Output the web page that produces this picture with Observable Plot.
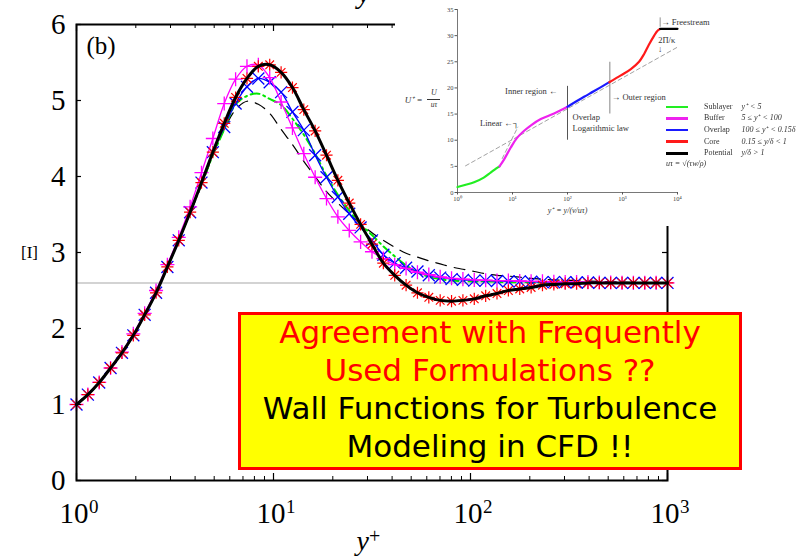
<!DOCTYPE html>
<html>
<head>
<meta charset="utf-8">
<script src="https://cdn.jsdelivr.net/npm/d3@7"></script>
<script src="https://cdn.jsdelivr.net/npm/@observablehq/plot@0.6"></script>
<style>
  html, body { margin: 0; padding: 0; background: #fff; }
  #wrap { position: relative; width: 796px; height: 556px; overflow: hidden; }
  #main { position: absolute; left: 0; top: 0; }
  #inset { position: absolute; left: 395px; top: 0; width: 401px; height: 226px; background: #fff; filter: blur(0.45px); }
  #inset .lg { position: absolute; font-family: "Liberation Serif", serif; font-size: 8px; color: #333; white-space: nowrap; line-height: 8px; }
  #inset .bar { position: absolute; height: 2.5px; width: 22px; }
  #inset .fracbar { position: absolute; left: 32px; top: 98.8px; width: 13px; height: 0.8px; background: #333; }
  #note { position: absolute; left: 238px; top: 312px; width: 504px; height: 158px; box-sizing: border-box;
          border: 3px solid #ff0000; background: #ffff00; text-align: center;
          font-family: "DejaVu Sans", sans-serif; font-size: 31px; line-height: 38px; }
  #note .inner { margin-top: -2px; }
  #note .q { color: #ff0000; }
  #note .a { color: #000; }
</style>
</head>
<body>
<div id="wrap">
  <div id="main"></div>
  <div id="inset"><div class="fracbar"></div></div>
  <div id="note"><div class="inner">
    <div class="q">Agreement with Frequently</div>
    <div class="q">Used Formulations ??</div>
    <div class="a">Wall Functions for Turbulence</div>
    <div class="a">Modeling in CFD !!</div>
  </div></div>
</div>
<script>
// ---- main panel (b): profiles against y+ ----
const yPlus = [1, 1.142, 1.304, 1.489, 1.701, 1.943, 2.218, 2.534, 2.893, 3.304,
  3.774, 4.310, 4.922, 5.623, 6.422, 7.334, 8.376, 9.567, 10.93, 12.48,
  14.25, 16.27, 18.58, 21.22, 24.24, 27.68, 31.62, 36.11, 41.24, 47.10,
  53.79, 61.43, 70.16, 80.13, 91.51, 104.5, 119.4, 136.3, 155.7, 177.8,
  203.1, 231.9, 264.9, 302.5, 345.5, 394.6, 450.7, 514.7, 587.8, 671.3,
  766.7, 875.6, 1000];

const seriesBlack = [1.00, 1.13, 1.29, 1.48, 1.68, 1.91, 2.18, 2.47, 2.81, 3.16,
  3.53, 3.92, 4.32, 4.70, 5.04, 5.29, 5.45, 5.47, 5.37, 5.17,
  4.88, 4.60, 4.28, 3.95, 3.65, 3.37, 3.11, 2.86, 2.70, 2.57,
  2.47, 2.41, 2.37, 2.36, 2.37, 2.39, 2.43, 2.46, 2.50, 2.52,
  2.54, 2.57, 2.58, 2.59, 2.59, 2.60, 2.60, 2.60, 2.60, 2.60,
  2.60, 2.60, 2.60];

const seriesMagenta = [1.00, 1.13, 1.29, 1.48, 1.69, 1.93, 2.20, 2.50, 2.84, 3.20,
  3.60, 4.05, 4.50, 4.96, 5.28, 5.45, 5.47, 5.30, 4.98, 4.64,
  4.30, 3.99, 3.71, 3.47, 3.29, 3.14, 3.01, 2.92, 2.84, 2.79,
  2.74, 2.71, 2.68, 2.66, 2.65, 2.64, 2.635, 2.63, 2.63, 2.625,
  2.62, 2.62, 2.615, 2.61, 2.61, 2.61, 2.605, 2.605, 2.60, 2.60,
  2.60, 2.60, 2.60];

const seriesBlue = [1.00, 1.13, 1.29, 1.48, 1.68, 1.91, 2.18, 2.47, 2.81, 3.16,
  3.53, 3.92, 4.32, 4.65, 4.96, 5.18, 5.29, 5.24, 5.11, 4.85,
  4.61, 4.28, 3.99, 3.73, 3.51, 3.33, 3.16, 2.97, 2.86, 2.80,
  2.75, 2.70, 2.67, 2.65, 2.64, 2.63, 2.63, 2.625, 2.62, 2.62,
  2.615, 2.61, 2.61, 2.61, 2.605, 2.605, 2.60, 2.60, 2.60, 2.60,
  2.60, 2.60, 2.60];

const seriesGreen = [1.00, 1.13, 1.29, 1.48, 1.68, 1.91, 2.18, 2.47, 2.81, 3.16,
  3.53, 3.90, 4.28, 4.62, 4.95, 5.06, 5.09, 5.02, 4.94, 4.76,
  4.55, 4.30, 4.01, 3.76, 3.55, 3.37, 3.23, 3.08, 2.95, 2.83,
  2.74, 2.68, 2.65, 2.63, 2.625, 2.62, 2.62, 2.615, 2.61, 2.61,
  2.61, 2.605, 2.605, 2.60, 2.60, 2.60, 2.60, 2.60, 2.60, 2.60,
  2.60, 2.60, 2.60];

const seriesDashed = [1.00, 1.13, 1.29, 1.48, 1.68, 1.91, 2.18, 2.47, 2.81, 3.16,
  3.52, 3.88, 4.28, 4.62, 4.88, 4.99, 4.95, 4.83, 4.62, 4.42,
  4.20, 4.00, 3.80, 3.65, 3.51, 3.38, 3.26, 3.16, 3.07, 2.99,
  2.94, 2.89, 2.85, 2.81, 2.78, 2.75, 2.72, 2.70, 2.69, 2.675,
  2.66, 2.65, 2.64, 2.635, 2.63, 2.625, 2.62, 2.615, 2.61, 2.605,
  2.60, 2.60, 2.60];

const referenceLevel = 2.6;
const majorTicks = [1, 10, 100, 1000];
const majorExponents = ["0", "1", "2", "3"];
const minorTicks = [2, 3, 4, 5, 6, 7, 8, 9, 20, 30, 40, 50, 60, 70, 80, 90,
  200, 300, 400, 500, 600, 700, 800, 900];
const yTicks = [0, 1, 2, 3, 4, 5, 6];

const rows = yPlus.map((yp, i) => ({
  yp, black: seriesBlack[i], magenta: seriesMagenta[i], blue: seriesBlue[i],
  green: seriesGreen[i], dashed: seriesDashed[i]
}));

const serif = "'Liberation Serif', 'Times New Roman', serif";
const frameH = 456, frameW = 591;

const main = Plot.plot({
  width: 796, height: 556,
  marginLeft: 76, marginRight: 129, marginTop: 24, marginBottom: 76,
  x: {type: "log", domain: [1, 1000], axis: null},
  y: {domain: [0, 6], axis: null},
  style: {fontFamily: serif, background: "transparent", overflow: "visible", color: "#000"},
  marks: [
    Plot.ruleY([referenceLevel], {stroke: "#c4c4c4", strokeWidth: 1.5}),
    Plot.line(rows, {x: "yp", y: "dashed", stroke: "#000", strokeWidth: 1.2, strokeDasharray: "11,8", curve: "catmull-rom"}),
    Plot.line(rows, {x: "yp", y: "green", stroke: "#00e600", strokeWidth: 2, strokeDasharray: "9,4,2,4", curve: "catmull-rom"}),
    Plot.line(rows, {x: "yp", y: "blue", stroke: "#0000ff", strokeWidth: 1.3, curve: "catmull-rom"}),
    Plot.dot(rows, {x: "yp", y: "blue", symbol: "times", r: 5.5, stroke: "#0000ff", strokeWidth: 1.3}),
    Plot.line(rows, {x: "yp", y: "magenta", stroke: "#ff00ff", strokeWidth: 1.3, curve: "catmull-rom"}),
    Plot.dot(rows, {x: "yp", y: "magenta", symbol: "plus", r: 4.6, stroke: "#ff00ff", strokeWidth: 1.3}),
    Plot.dot(rows, {x: "yp", y: "black", symbol: "plus", r: 4, stroke: "#ff0000", strokeWidth: 1.2}),
    Plot.dot(rows, {x: "yp", y: "black", symbol: "times", r: 4, stroke: "#ff0000", strokeWidth: 1.2}),
    Plot.line(rows, {x: "yp", y: "black", stroke: "#000", strokeWidth: 3, curve: "catmull-rom"}),
    Plot.frame({stroke: "#000", strokeWidth: 2}),
    // inward ticks on all four sides
    Plot.tickX(majorTicks, {x: d => d, insetTop: frameH - 7, stroke: "#000", strokeWidth: 1.2}),
    Plot.tickX(minorTicks, {x: d => d, insetTop: frameH - 4, stroke: "#000", strokeWidth: 1}),
    Plot.tickX(majorTicks, {x: d => d, insetBottom: frameH - 7, stroke: "#000", strokeWidth: 1.2}),
    Plot.tickX(minorTicks, {x: d => d, insetBottom: frameH - 4, stroke: "#000", strokeWidth: 1}),
    Plot.tickY(yTicks, {y: d => d, insetRight: frameW - 5, stroke: "#000", strokeWidth: 1.2}),
    Plot.tickY(yTicks, {y: d => d, insetLeft: frameW - 5, stroke: "#000", strokeWidth: 1.2}),
    // tick labels
    Plot.axisY(yTicks, {tickSize: 0, tickPadding: 11, fontSize: 29, fill: "#000", label: null, tickFormat: d => String(d)}),
    Plot.text(majorTicks, {x: d => d, frameAnchor: "bottom", text: () => "10", textAnchor: "end",
      lineAnchor: "bottom", dx: 12, dy: 42, fontSize: 29, fill: "#000"}),
    Plot.text(majorTicks, {x: d => d, frameAnchor: "bottom", text: d => majorExponents[majorTicks.indexOf(d)],
      textAnchor: "start", lineAnchor: "bottom", dx: 12.5, dy: 32, fontSize: 19, fill: "#000"}),
    // axis titles and panel tag
    Plot.text(["y"], {frameAnchor: "bottom", text: d => d, textAnchor: "end", lineAnchor: "bottom",
      dx: -3, dy: 69, fontSize: 28, fontStyle: "italic", fill: "#000"}),
    Plot.text(["+"], {frameAnchor: "bottom", text: d => d, textAnchor: "start", lineAnchor: "bottom",
      dx: -3, dy: 62, fontSize: 20, fill: "#000"}),
    Plot.text(["[I]"], {frameAnchor: "left", text: d => d, textAnchor: "middle", dx: -47, dy: 0, fontSize: 17, fill: "#000"}),
    Plot.text(["(b)"], {frameAnchor: "top-left", text: d => d, textAnchor: "start", lineAnchor: "bottom",
      dx: 10, dy: 29, fontSize: 25, fill: "#000"}),
    Plot.text(["y"], {frameAnchor: "top", text: d => d, textAnchor: "middle", lineAnchor: "bottom",
      dx: -8, dy: -22, fontSize: 29, fontStyle: "italic", fill: "#000"})
  ]
});
document.getElementById("main").appendChild(main);

// ---- inset: regions of the mean velocity profile U+ against y+ ----
const insetSublayer = [[1, 1.05], [2, 1.95], [3, 2.85], [4, 3.8], [5, 4.55], [5.8, 5.0]];
const insetBuffer = [[5.8, 5.0], [7, 6.3], [9.3, 8.6], [12, 10.4], [16.3, 11.8], [22, 12.9], [32.7, 14.05], [57, 15.1], [100, 16.4]];
const insetOverlap = [[100, 16.4], [200, 18.3], [300, 19.35], [575, 21.1]];
const insetCore = [[575, 21.1], [933, 22.4], [1420, 23.6], [2000, 25.0], [2475, 26.5], [3000, 28.2], [3765, 30.0], [4300, 30.9], [4840, 31.25]];
const insetPotential = [[4840, 31.3], [10000, 31.3]];
const insetLogLaw = [[1.4, 5.1], [10000, 27.8]];
const insetLinear = [[6.5, 6.5], [12.5, 12.5]];
const insetYTicks = [0, 5, 10, 15, 20, 25, 30, 35];
const insetXTicks = [1, 10, 100, 1000, 10000];
const insetXLabels = ["10⁰", "10¹", "10²", "10³", "10⁴"];
const insetNotes = [
  {x: 100, y: 19.35, t: "Inner region ←", anchor: "end", dx: -10},
  {x: 588, y: 18.2, t: "→ Outer region", anchor: "start", dx: 2},
  {x: 100, y: 14.37, t: "Overlap", anchor: "start", dx: 5},
  {x: 100, y: 12.34, t: "Logarithmic law", anchor: "start", dx: 5},
  {x: 13, y: 13.3, t: "Linear ←┐", anchor: "end", dx: 0},
  {x: 4840, y: 32.6, t: "→ Freestream", anchor: "start", dx: 1},
  {x: 4840, y: 29.2, t: "2Π/κ", anchor: "start", dx: -2},
  {x: 4840, y: 27.4, t: "↓", anchor: "middle", dx: 0}
];

const xy = {x: d => d[0], y: d => d[1]};
const inset = Plot.plot({
  width: 401, height: 226,
  marginLeft: 62, marginRight: 119, marginTop: 9, marginBottom: 34,
  x: {type: "log", domain: [1, 10000], axis: null},
  y: {domain: [0, 35], axis: null},
  style: {fontFamily: serif, background: "transparent", overflow: "visible", color: "#333"},
  marks: [
    Plot.ruleX([1], {stroke: "#555", strokeWidth: 0.8}),
    Plot.ruleY([0], {stroke: "#555", strokeWidth: 0.8}),
    Plot.axisY(insetYTicks, {tickSize: 2.5, tickPadding: 1.5, fontSize: 6.5, fill: "#444", stroke: "#555", label: null}),
    Plot.axisX(insetXTicks, {tickSize: 2.5, tickPadding: 1.5, fontSize: 6.5, fill: "#444", stroke: "#555", label: null,
      tickFormat: d => insetXLabels[insetXTicks.indexOf(d)]}),
    Plot.line(insetLogLaw, {...xy, stroke: "#8a8a8a", strokeWidth: 0.8, strokeDasharray: "4,3"}),
    Plot.line(insetLinear, {...xy, stroke: "#8a8a8a", strokeWidth: 0.8, strokeDasharray: "4,3"}),
    Plot.ruleX([100], {y1: 10, y2: 20.3, stroke: "#555", strokeWidth: 1}),
    Plot.ruleX([588], {y1: 15, y2: 24.9, stroke: "#9a9a9a", strokeWidth: 1.2}),
    Plot.ruleX([4840], {y1: 31.6, y2: 33.4, stroke: "#777", strokeWidth: 0.8}),
    Plot.line(insetSublayer, {...xy, stroke: "#22ee22", strokeWidth: 2.2, curve: "catmull-rom"}),
    Plot.line(insetBuffer, {...xy, stroke: "#ee22ee", strokeWidth: 2.2, curve: "catmull-rom"}),
    Plot.line(insetOverlap, {...xy, stroke: "#1a1aff", strokeWidth: 2.2, curve: "catmull-rom"}),
    Plot.line(insetCore, {...xy, stroke: "#ff1a1a", strokeWidth: 2.2, curve: "catmull-rom"}),
    Plot.line(insetPotential, {...xy, stroke: "#000", strokeWidth: 2.2}),
    ...insetNotes.map(n => Plot.text([n], {x: "x", y: "y", text: "t", textAnchor: n.anchor, dx: n.dx, fontSize: 8.5, fill: "#333"})),
    Plot.text(["y⁺ = y/(ν/uτ)"], {frameAnchor: "bottom", text: d => d, dy: 20, fontSize: 8, fill: "#333", fontStyle: "italic"}),
    Plot.text(["U⁺ ="], {frameAnchor: "left", text: d => d, textAnchor: "end", dx: -35, dy: -1, fontSize: 9, fill: "#333", fontStyle: "italic"}),
    Plot.text(["U"], {frameAnchor: "left", text: d => d, textAnchor: "middle", dx: -23.5, dy: -6, lineAnchor: "bottom", fontSize: 8, fill: "#333", fontStyle: "italic"}),
    Plot.text(["uτ"], {frameAnchor: "left", text: d => d, textAnchor: "middle", dx: -23.5, dy: 1, lineAnchor: "top", fontSize: 7.5, fill: "#333", fontStyle: "italic"})
  ]
});
const insetBox = document.getElementById("inset");
insetBox.insertBefore(inset, insetBox.firstChild);

// legend of the inset
const legendRows = ["Sublayer", "Buffer", "Overlap", "Core", "Potential"];
const legendColors = ["#22ee22", "#ee22ee", "#1a1aff", "#ff1a1a", "#000"];
const legendRanges = ["y⁺ < 5", "5 ≤ y⁺ < 100", "100 ≤ y⁺ < 0.15δ", "0.15 ≤ y/δ < 1", "y/δ > 1"];
legendRows.forEach((name, i) => {
  const top = 106.7 + i * 11.65;
  const bar = document.createElement("div");
  bar.className = "bar";
  bar.style.left = "271px"; bar.style.top = (top - 1.2) + "px"; bar.style.background = legendColors[i];
  insetBox.appendChild(bar);
  const a = document.createElement("div");
  a.className = "lg"; a.style.left = "309px"; a.style.top = (top - 4) + "px"; a.textContent = name;
  insetBox.appendChild(a);
  const b = document.createElement("div");
  b.className = "lg"; b.style.left = "346.5px"; b.style.top = (top - 4) + "px"; b.style.fontStyle = "italic"; b.textContent = legendRanges[i];
  insetBox.appendChild(b);
});
const ut = document.createElement("div");
ut.className = "lg"; ut.style.left = "271px"; ut.style.top = "160px"; ut.style.fontStyle = "italic";
ut.textContent = "uτ = √(τw/ρ)";
insetBox.appendChild(ut);
</script>
</body>
</html>
